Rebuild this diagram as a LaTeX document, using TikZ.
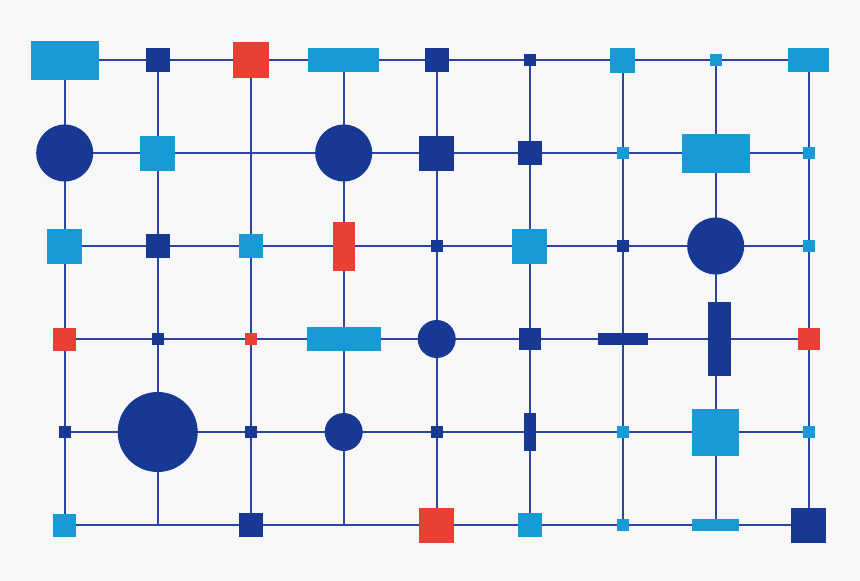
\documentclass[tikz,border=0pt]{standalone}
\usepackage{tikz}

\definecolor{deep}{HTML}{173893}
\definecolor{sky}{HTML}{169BD7}
\definecolor{alert}{HTML}{E94035}
\definecolor{wirecol}{HTML}{2B46A0}
\definecolor{paper}{HTML}{F7F7F7}

\begin{document}
\begin{tikzpicture}[x=1pt,y=-1pt,
		wire/.style = {draw=wirecol,line width=1.8pt},
		blk/.style 2 args = {rectangle,inner sep=0pt,outer sep=0pt,minimum width=#1pt,minimum height=#2pt},
		sqr/.style = {blk={#1}{#1}},
		disc/.style = {circle,inner sep=0pt,outer sep=0pt,minimum size=#1pt}]
		\fill[paper] (0,0) rectangle (860,581);
		% grid points
		\foreach \r in {1,...,6}
			\foreach \c in {1,...,9}
				\coordinate (g\r-\c) at ({64.7+93*(\c-1)},{60+93*(\r-1)});
		% wires
		\foreach \r in {1,...,6}
			\draw[wire] (g\r-1) -- (g\r-9);
		\foreach \c in {1,...,9}
			\draw[wire] (g1-\c) -- (g6-\c);
		% row 1
		\node [blk={68}{39}, fill=sky] (r1c1) at (g1-1) {};
		\node [sqr=24, fill=deep] (r1c2) at (g1-2) {};
		\node [sqr=36, fill=alert] (r1c3) at (g1-3) {};
		\node [blk={71}{24}, fill=sky] (r1c4) at (g1-4) {};
		\node [sqr=24, fill=deep] (r1c5) at (g1-5) {};
		\node [sqr=12, fill=deep] (r1c6) at (g1-6) {};
		\node [sqr=25, fill=sky] (r1c7) at (g1-7) {};
		\node [sqr=12, fill=sky] (r1c8) at (g1-8) {};
		\node [blk={41}{24}, fill=sky] (r1c9) at (g1-9) {};
		% row 2
		\node [disc=57, fill=deep] (r2c1) at (g2-1) {};
		\node [sqr=35, fill=sky] (r2c2) at (g2-2) {};
		\node [disc=57, fill=deep] (r2c4) at (g2-4) {};
		\node [sqr=35, fill=deep] (r2c5) at (g2-5) {};
		\node [sqr=24, fill=deep] (r2c6) at (g2-6) {};
		\node [sqr=12, fill=sky] (r2c7) at (g2-7) {};
		\node [blk={68}{39}, fill=sky] (r2c8) at (g2-8) {};
		\node [sqr=12, fill=sky] (r2c9) at (g2-9) {};
		% row 3
		\node [sqr=35, fill=sky] (r3c1) at (g3-1) {};
		\node [sqr=24, fill=deep] (r3c2) at (g3-2) {};
		\node [sqr=24, fill=sky] (r3c3) at (g3-3) {};
		\node [blk={22}{49}, fill=alert] (r3c4) at (g3-4) {};
		\node [sqr=12, fill=deep] (r3c5) at (g3-5) {};
		\node [sqr=35, fill=sky] (r3c6) at (g3-6) {};
		\node [sqr=12, fill=deep] (r3c7) at (g3-7) {};
		\node [disc=57, fill=deep] (r3c8) at (g3-8) {};
		\node [sqr=12, fill=sky] (r3c9) at (g3-9) {};
		% row 4
		\node [sqr=23, fill=alert] (r4c1) at (g4-1) {};
		\node [sqr=12, fill=deep] (r4c2) at (g4-2) {};
		\node [sqr=12, fill=alert] (r4c3) at (g4-3) {};
		\node [blk={74}{24}, fill=sky] (r4c4) at (g4-4) {};
		\node [disc=38, fill=deep] (r4c5) at (g4-5) {};
		\node [sqr=22, fill=deep] (r4c6) at (g4-6) {};
		\node [blk={50}{12}, fill=deep] (r4c7) at (g4-7) {};
		\node [blk={23}{74}, fill=deep, xshift=3.3pt] (r4c8) at (g4-8) {};
		\node [sqr=22, fill=alert] (r4c9) at (g4-9) {};
		% row 5
		\node [sqr=12, fill=deep] (r5c1) at (g5-1) {};
		\node [disc=80, fill=deep] (r5c2) at (g5-2) {};
		\node [sqr=12, fill=deep] (r5c3) at (g5-3) {};
		\node [disc=38, fill=deep] (r5c4) at (g5-4) {};
		\node [sqr=12, fill=deep] (r5c5) at (g5-5) {};
		\node [blk={12}{38}, fill=deep] (r5c6) at (g5-6) {};
		\node [sqr=12, fill=sky] (r5c7) at (g5-7) {};
		\node [sqr=47, fill=sky] (r5c8) at (g5-8) {};
		\node [sqr=12, fill=sky] (r5c9) at (g5-9) {};
		% row 6
		\node [sqr=23, fill=sky] (r6c1) at (g6-1) {};
		\node [sqr=24, fill=deep] (r6c3) at (g6-3) {};
		\node [sqr=35, fill=alert] (r6c5) at (g6-5) {};
		\node [sqr=24, fill=sky] (r6c6) at (g6-6) {};
		\node [sqr=12, fill=sky] (r6c7) at (g6-7) {};
		\node [blk={47}{12}, fill=sky] (r6c8) at (g6-8) {};
		\node [sqr=35, fill=deep] (r6c9) at (g6-9) {};
	\end{tikzpicture}
\end{document}
